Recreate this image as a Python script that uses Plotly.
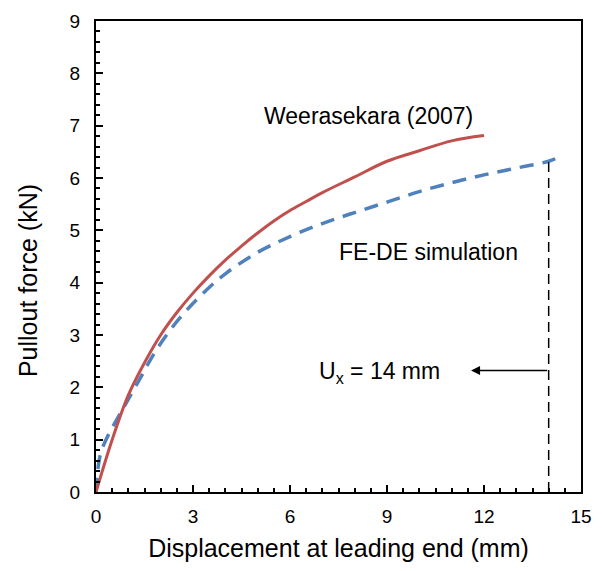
import plotly.graph_objects as go

# Experimental curve (Weerasekara 2007)
exp_x = [0, 0.5, 1, 1.5, 2, 2.5, 3, 3.5, 4, 4.5, 5, 5.5, 6, 6.5, 7, 8, 9, 10, 11, 12]
exp_y = [0, 1.0, 1.85, 2.47, 3.0, 3.43, 3.8, 4.13, 4.43, 4.7, 4.95, 5.18, 5.38, 5.55, 5.72, 6.02, 6.32, 6.52, 6.71, 6.81]

# FE-DE simulation curve
sim_x = [0, 0.05, 0.15, 0.35, 0.75, 1.3, 1.8, 2.3, 2.8, 3.4, 4.0, 5.0, 6.0, 7.0, 8.0, 9.0, 10.0, 11.0, 12.0, 13.0, 14.0, 14.35]
sim_y = [0, 0.4, 0.75, 1.05, 1.5, 2.1, 2.65, 3.1, 3.47, 3.85, 4.17, 4.58, 4.88, 5.13, 5.34, 5.54, 5.74, 5.91, 6.06, 6.19, 6.32, 6.41]

# Marker of Ux = 14 mm
ux_x = [14, 14]
ux_y = [0, 6.3]
arrow_tail = (14, 2.32)
arrow_head = (11.6, 2.32)

FONT = "Liberation Sans, Arial, sans-serif"

fig = go.Figure()
fig.add_trace(go.Scatter(x=sim_x, y=sim_y, mode="lines",
                         line=dict(color="#4F81BD", width=3.5, dash="14px,9px", shape="spline", smoothing=1.0),
                         showlegend=False))
fig.add_trace(go.Scatter(x=exp_x, y=exp_y, mode="lines",
                         line=dict(color="#C0504D", width=3, shape="spline", smoothing=1.0),
                         showlegend=False))
fig.add_trace(go.Scatter(x=ux_x, y=ux_y, mode="lines", line=dict(color="black", width=1.5, dash="10px,6px"),
                         showlegend=False))

fig.add_annotation(x=arrow_head[0], y=arrow_head[1], ax=arrow_tail[0], ay=arrow_tail[1],
                   xref="x", yref="y", axref="x", ayref="y", text="", showarrow=True,
                   arrowhead=2, arrowsize=1.2, arrowwidth=1.5, arrowcolor="black")
fig.add_annotation(x=8.78, y=2.29, text="U<sub>x</sub> = 14 mm", showarrow=False,
                   font=dict(size=23, color="black", family=FONT))
fig.add_annotation(x=8.44, y=7.19, text="Weerasekara (2007)", showarrow=False,
                   font=dict(size=23, color="black", family=FONT))
fig.add_annotation(x=10.27, y=4.58, text="FE-DE simulation", showarrow=False,
                   font=dict(size=23, color="black", family=FONT))
# y-axis title placed as an annotation to match its offset in the reference
fig.add_annotation(x=-0.14, y=0.448, xref="paper", yref="paper", text="Pullout force (kN)",
                   textangle=-90, showarrow=False, xanchor="center", yanchor="middle",
                   font=dict(size=25, color="black", family=FONT))

fig.update_layout(
    width=603, height=571,
    margin=dict(l=96, r=22, t=21, b=79),
    plot_bgcolor="white", paper_bgcolor="white",
    font=dict(family=FONT, size=19, color="black"),
)
fig.update_xaxes(range=[0, 15], tickvals=[0, 3, 6, 9, 12, 15], ticks="inside", ticklen=7, tickwidth=2,
                 tickcolor="black", showline=True, linecolor="black", linewidth=2, mirror=True,
                 showgrid=False, zeroline=False, ticklabelstandoff=6,
                 minor=dict(dtick=0.5, ticks="inside", ticklen=4, tickwidth=1.5, tickcolor="black", showgrid=False),
                 title=dict(text="Displacement at leading end (mm)", standoff=14, font=dict(size=25)))
fig.update_yaxes(range=[0, 9], dtick=1, ticks="inside", ticklen=7, tickwidth=2,
                 tickcolor="black", showline=True, linecolor="black", linewidth=2, mirror=True,
                 showgrid=False, zeroline=False, ticklabelstandoff=10,
                 minor=dict(dtick=0.2, ticks="inside", ticklen=4, tickwidth=1.5, tickcolor="black", showgrid=False))

fig.write_html("out.html")
